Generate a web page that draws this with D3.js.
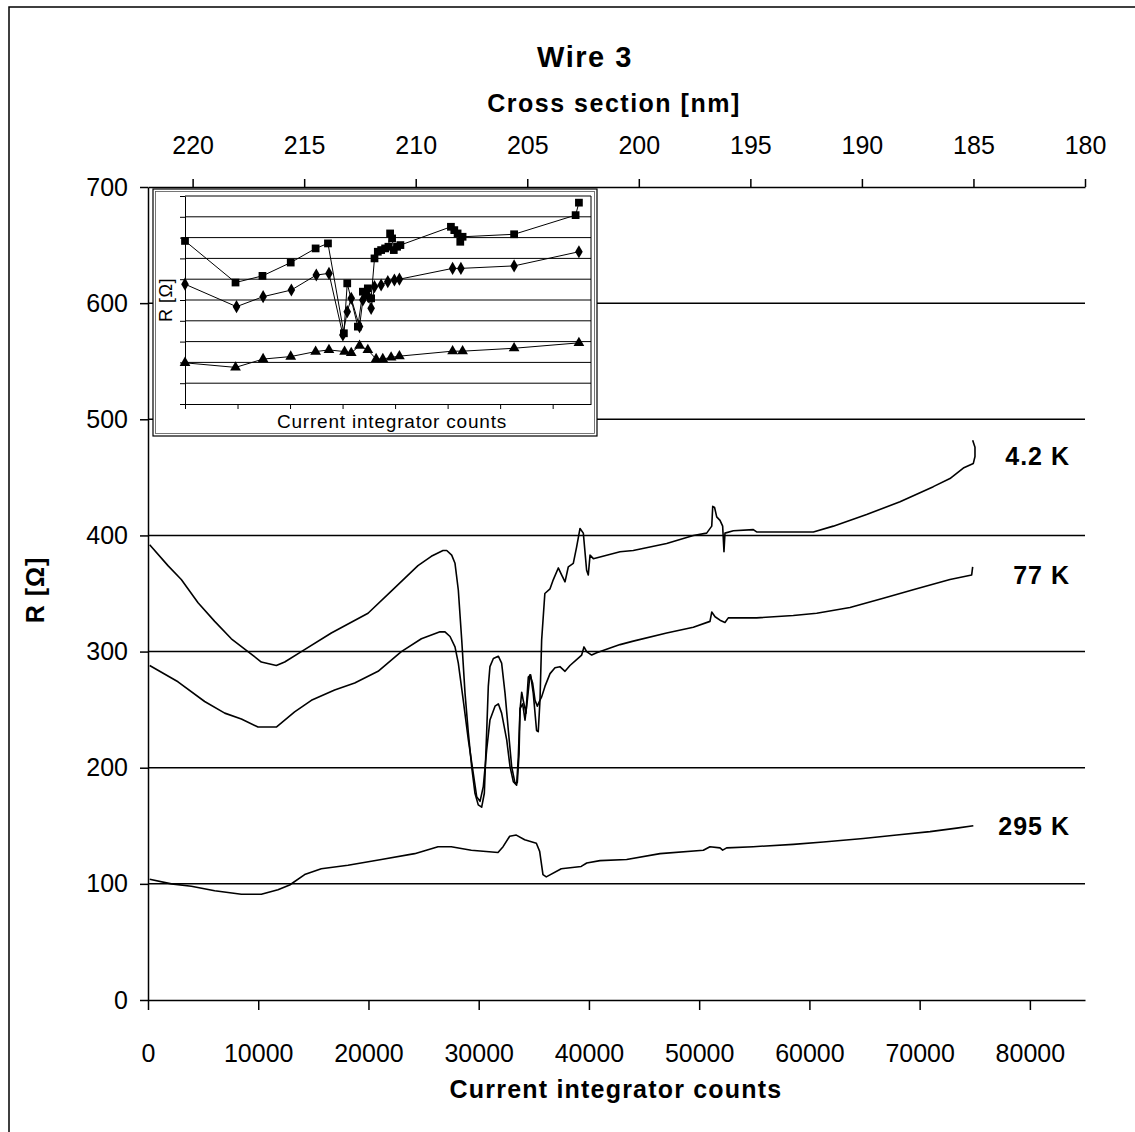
<!DOCTYPE html>
<html>
<head>
<meta charset="utf-8">
<script src="https://cdn.jsdelivr.net/npm/d3@7"></script>
<style>
  body { margin: 0; background: #fff; }
  svg { display: block; font-family: "Liberation Sans", Arial, sans-serif; }
</style>
</head>
<body>
<svg id="chart" width="1135" height="1132"></svg>
<script>
// ---- data ----
const countTicks = [0, 10000, 20000, 30000, 40000, 50000, 60000, 70000, 80000];
const crossTicks = [220, 215, 210, 205, 200, 195, 190, 185, 180];
const rTicks = [0, 100, 200, 300, 400, 500, 600, 700];
const gridR = [100, 200, 300, 400, 500, 600];

const seriesNames = ["4.2 K", "77 K", "295 K"];
const labelR = [468, 366, 150];

// [counts, R]
const r42K = [
  [150,392],[1810,374],[3020,362],[4540,342],[6050,326],[7560,311],[9070,300],[10280,291],[11640,288],
  [12400,291],[13910,300],[16630,316],[19960,333],[22070,352],[24490,374],[25700,382],[26760,387],
  [27100,387],[27550,383],[27850,376],[28150,353],[28460,310],[28760,264],[29060,230],[29360,201],
  [29660,178],[29960,168],[30270,166],[30510,178],[30720,230],[30870,270],[31020,287],[31330,294],
  [31780,296],[32080,290],[32390,264],[32690,232],[32990,201],[33290,187],[33500,187],[33660,212],
  [33750,250],[33900,265],[34040,258],[34290,247],[34500,278],[34710,280],[34950,264],[35250,232],
  [35400,231],[35560,258],[35710,310],[36000,350],[36470,354],[36770,362],[37220,372],[37520,366],
  [37830,360],[38130,373],[38580,376],[38880,390],[39190,406],[39490,402],[39790,370],[39940,366],
  [40100,383],[40400,380],[42820,386],[44020,387],[47050,393],[49470,400],[50680,402],[51140,408],
  [51230,425],[51400,424],[51590,416],[51890,413],[52130,408],[52250,386],[52340,402],[53100,404],
  [54910,405],[55210,403],[60360,403],[62170,408],[65190,418],[68220,429],[71240,442],[72750,449],
  [73960,458],[74870,462],[75020,468],[75020,476],[74810,482]
];
const r77K = [
  [150,288],[2720,274],[5140,257],[6960,247],[8470,242],[9980,235],[11640,235],[13300,248],[14820,258],
  [16930,267],[18750,273],[20870,283],[22980,300],[24800,311],[26490,317],[26940,317],[27400,313],
  [27850,304],[28150,290],[28600,258],[29060,224],[29510,195],[29820,175],[30120,171],[30420,184],
  [30720,215],[31020,241],[31480,253],[31780,255],[32080,247],[32540,224],[32840,201],[33140,188],
  [33440,185],[33590,209],[33750,251],[33990,255],[34200,241],[34410,258],[34650,280],[34890,273],
  [35110,258],[35320,253],[35500,257],[35710,261],[36010,270],[36470,281],[36920,286],[37370,287],
  [37830,283],[38280,288],[38880,293],[39340,297],[39550,304],[39790,300],[40250,297],[40700,299],
  [42820,306],[44020,309],[47050,316],[49470,321],[50980,326],[51140,334],[51440,330],[51890,327],
  [52340,325],[52640,329],[55210,329],[58540,331],[60660,333],[63680,338],[66700,346],[69730,354],
  [72750,362],[74720,366],[74810,373]
];
const r295K = [
  [150,104],[2120,100],[3930,98],[6050,94],[8470,91],[10280,91],[11790,95],[12850,99],[14210,108],
  [15720,113],[18140,116],[21170,121],[24190,126],[26310,132],[27510,132],[29330,129],[31750,127],
  [32210,132],[32810,141],[33410,142],[34170,138],[35230,135],[35530,128],[35830,108],[36130,106],
  [37490,113],[39300,115],[39800,118],[41000,120],[43420,121],[46450,126],[50380,129],[50980,132],
  [51890,131],[52130,129],[52490,131],[54910,132],[58540,134],[61260,136],[64890,139],[67920,142],
  [70940,145],[73360,148],[74870,150]
];

// inset: fewer measured points with markers
const inset42K = [
  [0,392],[9620,292],[14750,308],[20130,340],[24870,374],[27220,386],[30250,170],[30890,290],
  [32910,186],[33860,270],[34810,278],[35440,254],[36080,350],[36710,366],[37340,370],[38100,374],
  [38730,378],[39050,410],[39430,398],[39750,370],[40380,378],[41010,382],[50630,426],[51270,418],
  [51900,410],[52410,390],[52850,402],[62660,408],[74370,454],[75000,484]
];
const inset77K = [
  [0,288],[9810,234],[14870,258],[20250,274],[25000,310],[27410,314],[30060,166],[30890,222],
  [31650,254],[33230,186],[33860,250],[34300,266],[34940,258],[35440,230],[36080,282],[37340,286],
  [38610,294],[39870,298],[40820,300],[50950,326],[52530,326],[62660,332],[75000,366]
];
const inset295K = [
  [0,99],[9620,88],[14870,108],[20130,114],[24870,126],[27410,130],[30380,126],[31650,123],
  [33230,140],[34810,130],[36390,108],[37660,108],[39240,112],[40820,115],[50950,127],[52850,127],
  [62660,134],[75000,147]
];
const insetTicks = [0, 10000, 20000, 30000, 40000, 50000, 60000, 70000];
const insetGrid = [50, 100, 150, 200, 250, 300, 350, 400, 450, 500];

// ---- drawing ----
const svg = d3.select("#chart");

// outer frame (only top and left edges fall inside the picture)
svg.append("rect")
  .attr("x", 9).attr("y", 7).attr("width", 1200).attr("height", 1200)
  .attr("fill", "none").attr("stroke", "#000").attr("stroke-width", 1.5);

const x = d3.scaleLinear().domain([0, 85000]).range([148, 1085]);
const xTop = d3.scaleLinear().domain([222, 180]).range([148, 1085]);
const y = d3.scaleLinear().domain([0, 700]).range([1000, 187]);

// gridlines
svg.append("g")
  .selectAll("line")
  .data(gridR)
  .join("line")
  .attr("x1", x(0)).attr("x2", x(85000))
  .attr("y1", d => y(d)).attr("y2", d => y(d))
  .attr("stroke", "#000").attr("stroke-width", 1.5);

function styleAxis(g, size) {
  g.selectAll(".domain").attr("stroke-width", 1.5);
  g.selectAll(".tick line").attr("stroke-width", 1.5);
  g.selectAll(".tick text")
    .attr("fill", "#000")
    .style("font-size", size + "px")
    .style("font-family", "'Liberation Sans', Arial, sans-serif");
}

svg.append("g")
  .attr("transform", `translate(0,${y(0)})`)
  .call(d3.axisBottom(x).tickValues(countTicks).tickFormat(d3.format("d"))
    .tickSize(10).tickSizeOuter(0).tickPadding(34))
  .call(g => styleAxis(g, 25));

svg.append("g")
  .attr("transform", `translate(0,${y(700)})`)
  .call(d3.axisTop(xTop).tickValues(crossTicks).tickFormat(d3.format("d"))
    .tickSize(8).tickSizeOuter(0).tickPadding(25))
  .call(g => styleAxis(g, 25));

svg.append("g")
  .attr("transform", `translate(${x(0)},0)`)
  .call(d3.axisLeft(y).tickValues(rTicks).tickFormat(d3.format("d"))
    .tickSize(8).tickSizeOuter(0).tickPadding(12))
  .call(g => styleAxis(g, 25));

// curves
const line = d3.line().x(d => x(d[0])).y(d => y(d[1]));
[r42K, r77K, r295K].forEach(s => {
  svg.append("path")
    .attr("d", line(s))
    .attr("fill", "none")
    .attr("stroke", "#000")
    .attr("stroke-width", 1.6)
    .attr("stroke-linejoin", "round");
});

// series labels
svg.append("g")
  .selectAll("text")
  .data(seriesNames)
  .join("text")
  .attr("x", 1070)
  .attr("y", (d, i) => y(labelR[i]))
  .attr("dy", "0.36em")
  .attr("text-anchor", "end")
  .style("font-size", "25px")
  .style("font-weight", "bold")
  .style("letter-spacing", "1px")
  .text(d => d);

// titles
svg.append("text")
  .attr("x", 585).attr("y", 67)
  .attr("text-anchor", "middle")
  .style("font-size", "29px").style("font-weight", "bold").style("letter-spacing", "1.5px")
  .text("Wire 3");

svg.append("text")
  .attr("x", 614).attr("y", 112)
  .attr("text-anchor", "middle")
  .style("font-size", "25px").style("font-weight", "bold").style("letter-spacing", "1.5px")
  .text("Cross section [nm]");

svg.append("text")
  .attr("x", 616).attr("y", 1098)
  .attr("text-anchor", "middle")
  .style("font-size", "25px").style("font-weight", "bold").style("letter-spacing", "1.2px")
  .text("Current integrator counts");

svg.append("text")
  .attr("transform", "translate(44,590) rotate(-90)")
  .attr("text-anchor", "middle")
  .style("font-size", "25px").style("font-weight", "bold").style("letter-spacing", "1px")
  .text("R [Ω]");

// ---- inset ----
const inset = svg.append("g");
inset.append("rect")
  .attr("x", 153).attr("y", 189).attr("width", 444).attr("height", 247)
  .attr("fill", "#fff").attr("stroke", "#000").attr("stroke-width", 1.2);
inset.append("rect")
  .attr("x", 155.5).attr("y", 191.5).attr("width", 439).attr("height", 242)
  .attr("fill", "none").attr("stroke", "#555").attr("stroke-width", 0.8);

const xi = d3.scaleLinear().domain([0, 77300]).range([185, 591]);
const yi = d3.scaleLinear().domain([0, 500]).range([404, 196]);

inset.append("g")
  .selectAll("line")
  .data(insetGrid)
  .join("line")
  .attr("x1", xi(0)).attr("x2", xi(77300))
  .attr("y1", d => yi(d)).attr("y2", d => yi(d))
  .attr("stroke", "#000").attr("stroke-width", 1);

inset.append("line")
  .attr("x1", xi(77300)).attr("x2", xi(77300))
  .attr("y1", yi(0)).attr("y2", yi(500))
  .attr("stroke", "#000").attr("stroke-width", 1);

inset.append("g")
  .attr("transform", `translate(0,${yi(0)})`)
  .call(d3.axisBottom(xi).tickValues(insetTicks).tickFormat("").tickSize(5).tickSizeOuter(0))
  .call(g => g.selectAll("path,line").attr("stroke-width", 1));

inset.append("g")
  .attr("transform", `translate(${xi(0)},0)`)
  .call(d3.axisLeft(yi).tickValues([0].concat(insetGrid)).tickFormat("").tickSize(5).tickSizeOuter(0))
  .call(g => g.selectAll("path,line").attr("stroke-width", 1));

const iline = d3.line().x(d => xi(d[0])).y(d => yi(d[1]));
const insetSeries = [
  { data: inset42K, sym: d3.symbolSquare, size: 60 },
  { data: inset77K, sym: d3.symbolDiamond, size: 50 },
  { data: inset295K, sym: d3.symbolTriangle, size: 50 }
];
insetSeries.forEach(s => {
  inset.append("path")
    .attr("d", iline(s.data))
    .attr("fill", "none").attr("stroke", "#000").attr("stroke-width", 1);
  inset.append("g")
    .selectAll("path")
    .data(s.data)
    .join("path")
    .attr("transform", d => `translate(${xi(d[0])},${yi(d[1])})`)
    .attr("d", d3.symbol().type(s.sym).size(s.size))
    .attr("fill", "#000");
});

inset.append("text")
  .attr("x", 392).attr("y", 428)
  .attr("text-anchor", "middle")
  .style("font-size", "19px").style("letter-spacing", "0.8px")
  .text("Current integrator counts");

inset.append("text")
  .attr("transform", "translate(172,300) rotate(-90)")
  .attr("text-anchor", "middle")
  .style("font-size", "18px").style("letter-spacing", "0.5px")
  .text("R [Ω]");
</script>
</body>
</html>
